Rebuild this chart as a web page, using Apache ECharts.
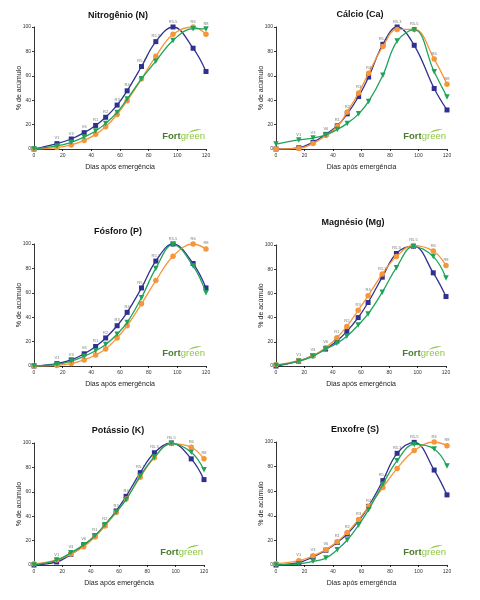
<!DOCTYPE html>
<html>
<head>
<meta charset="utf-8">
<script src="https://cdn.jsdelivr.net/npm/echarts@6/dist/echarts.min.js"></script>
<style>
html,body{margin:0;padding:0;background:#fff;}
#c{width:480px;height:600px;}
</style>
</head>
<body>
<div id="c"></div>
<script>
// ---- data ----
const days = [0, 16, 26, 35, 43, 50, 58, 65, 75, 85, 97, 111, 120];
const stages = ['', 'V1', 'V3', 'V6', 'R1', 'R2', 'R3', 'R4', 'R5.1', 'R5.3', 'R5.5', 'R6', 'R8'];
const yTicks = [0, 20, 40, 60, 80, 100];
const xTicks = [0, 20, 40, 60, 80, 100, 120];

const titles = ['Nitrogênio (N)', 'Cálcio (Ca)', 'Fósforo (P)', 'Magnésio (Mg)', 'Potássio (K)', 'Enxofre (S)'];

const nNavy   = [0, 4.4, 8.2, 13.4, 19.3, 26, 36, 47.7, 67.6, 88, 100, 82.6, 63.5];
const nOrange = [0, 1.2, 3.3, 7, 12, 18.3, 28.3, 39.5, 57.5, 76, 94, 100, 94];
const nGreen  = [0, 2.5, 5.5, 9.8, 14.7, 21, 30, 41, 57.5, 72, 89, 98.6, 98.4];

const caNavy   = [0, 1, 5.5, 12, 19, 28.8, 43, 59, 85.8, 100, 85, 49.6, 32];
const caOrange = [0, 0.5, 4.5, 11, 18.4, 30.4, 46, 62, 84, 98, 98, 73.7, 53];
const caGreen  = [4, 7.4, 9, 11.5, 16, 21, 28.8, 39, 60.5, 88.5, 97.8, 63.3, 42.7];

const pNavy   = [0, 2, 5, 10, 16, 23, 33, 44, 64, 86, 100, 84, 64];
const pOrange = [0, 0.5, 2, 5, 9, 14, 23, 33, 51, 70, 90, 100, 96];
const pGreen  = [0, 1.4, 4, 8, 12.5, 17.7, 26, 35.7, 56, 80, 99.5, 82, 60];

const mgNavy   = [0, 4, 8.5, 14, 20.6, 28.6, 40, 52.5, 73.4, 93, 99, 77, 57.4];
const mgOrange = [1, 4.5, 8.5, 15, 23.4, 32.7, 46, 58, 76, 90.4, 99.5, 95, 83];
const mgGreen  = [0.5, 4, 8, 14, 18.7, 24.5, 33.8, 43, 61, 81.3, 98.6, 90.4, 72.8];

const kNavy   = [0, 2.5, 8.7, 15.8, 24, 32.5, 44.3, 56.3, 75.7, 92, 100, 87, 70];
const kOrange = [1, 4, 9, 15, 23, 32, 43, 54, 72, 88, 99.5, 96.5, 87];
const kGreen  = [0, 4, 10, 16.5, 24, 33, 43.5, 53.5, 73, 88.5, 99.5, 92.5, 78];

const sNavy   = [0, 2, 6.5, 12, 18.4, 25.2, 35.8, 47.7, 68.6, 90.8, 99.7, 77.2, 57];
const sOrange = [1, 3.5, 7.5, 12.5, 19, 26.5, 37, 47.5, 63, 78.5, 93, 100, 97];
const sGreen  = [0, 1, 3, 5.6, 12.5, 20.3, 32.5, 45, 65.6, 84.8, 98, 94.3, 80.5];

const panels = [
  [nNavy, nOrange, nGreen],
  [caNavy, caOrange, caGreen],
  [pNavy, pOrange, pGreen],
  [mgNavy, mgOrange, mgGreen],
  [kNavy, kOrange, kGreen],
  [sNavy, sOrange, sGreen]
];

// ---- layout / style ----
const FONT = 'Liberation Sans, Arial, sans-serif';
const NAVY = '#2f3190', ORANGE = '#f6963a', GREEN = '#1fa35a';
const grids = [
  {left: 34,  top: 27,  width: 172, height: 122},
  {left: 276, top: 27,  width: 171, height: 122},
  {left: 34,  top: 244, width: 172, height: 122},
  {left: 276, top: 245, width: 170, height: 121},
  {left: 34,  top: 443, width: 170, height: 122},
  {left: 276, top: 442, width: 171, height: 123}
];
const titlePos = [[118, 16], [360, 15], [118, 232], [353, 223], [118, 431], [355, 430]];

const xAxes = [], yAxes = [], series = [], graphics = [];
const styles = [
  {name: 'Série 1', color: NAVY, symbol: 'rect', size: 5, rot: 0},
  {name: 'Série 2', color: ORANGE, symbol: 'circle', size: 5.5, rot: 0},
  {name: 'Série 3', color: GREEN, symbol: 'triangle', size: 5.5, rot: 180}
];

panels.forEach((arrs, p) => {
  xAxes.push({
    type: 'value', gridIndex: p, min: 0, max: 120, interval: 20,
    name: 'Dias após emergência', nameLocation: 'middle', nameGap: 15,
    nameMoveOverlap: false,
    nameTextStyle: {fontFamily: FONT, fontSize: 7, color: '#222'},
    axisLine: {lineStyle: {color: '#000', width: 0.8}},
    axisTick: {show: true, length: 2, lineStyle: {color: '#000', width: 0.8}},
    axisLabel: {fontFamily: FONT, fontSize: 5, color: '#333', margin: 4},
    splitLine: {show: false}
  });
  yAxes.push({
    type: 'value', gridIndex: p, min: 0, max: 100, interval: 20,
    name: '% de acúmulo', nameLocation: 'middle', nameGap: 11,
    nameMoveOverlap: false,
    nameTextStyle: {fontFamily: FONT, fontSize: 7, color: '#222'},
    axisLine: {show: true, lineStyle: {color: '#000', width: 0.8}},
    axisTick: {show: true, length: 2, lineStyle: {color: '#000', width: 0.8}},
    axisLabel: {fontFamily: FONT, fontSize: 5, color: '#333', margin: 3},
    splitLine: {show: false}
  });
  [2, 1, 0].forEach(k => {
    const st = styles[k];
    series.push({
      type: 'line', name: st.name, xAxisIndex: p, yAxisIndex: p,
      data: days.map((d, i) => [d, arrs[k][i]]),
      smooth: 0.4, symbol: st.symbol, symbolSize: st.size, symbolRotate: st.rot,
      showAllSymbol: true,
      lineStyle: {color: st.color, width: 1.3},
      itemStyle: {color: st.color},
      z: 3 + k,
      silent: true, animation: false
    });
  });
  // stage labels above the highest point at each sampling day
  series.push({
    type: 'scatter', xAxisIndex: p, yAxisIndex: p,
    symbolSize: 1, itemStyle: {color: 'transparent'},
    data: days.slice(1).map((d, j) => {
      const i = j + 1;
      return {value: [d, Math.max(arrs[0][i], arrs[1][i], arrs[2][i])], stage: stages[i]};
    }),
    label: {
      show: true, position: 'top', distance: 3,
      formatter: prm => prm.data.stage,
      fontFamily: FONT, fontSize: 4, color: '#555'
    },
    z: 10, silent: true, animation: false
  });
  // titles
  graphics.push({
    type: 'text', x: titlePos[p][0], y: titlePos[p][1],
    style: {text: titles[p], font: 'bold 9px ' + FONT, fill: '#111', textAlign: 'center', textVerticalAlign: 'middle'}
  });
  // Fortgreen logo
  const g = grids[p];
  const rx = g.left + g.width - 1, by = g.top + g.height - 8;
  graphics.push({
    type: 'text', x: rx, y: by,
    style: {
      text: '{a|Fort}{b|green}',
      textAlign: 'right', textVerticalAlign: 'bottom',
      rich: {
        a: {fontFamily: FONT, fontSize: 9.5, fontWeight: 'bold', fill: '#4b7d2c', color: '#4b7d2c'},
        b: {fontFamily: FONT, fontSize: 9.5, fill: '#8dc63f', color: '#8dc63f'}
      }
    }
  });
  graphics.push({
    type: 'polygon', x: rx - 17, y: by - 12,
    shape: {points: [[0, 4], [4, 1.5], [9, 0.2], [14, 0], [10, 1.2], [5, 2.6]]},
    style: {fill: '#8dc63f'}
  });
});

const chart = echarts.init(document.getElementById('c'), null, {renderer: 'canvas'});
chart.setOption({
  animation: false,
  backgroundColor: '#fff',
  grid: grids,
  xAxis: xAxes,
  yAxis: yAxes,
  series: series,
  graphic: graphics
});
</script>
</body>
</html>
